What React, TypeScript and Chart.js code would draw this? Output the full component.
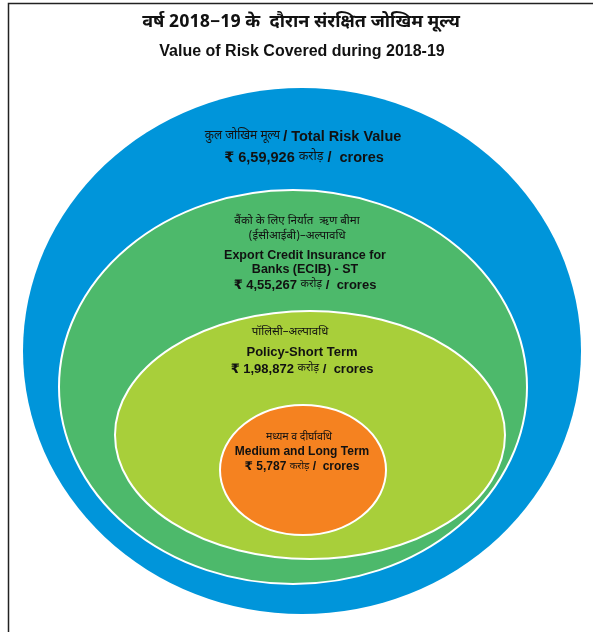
import { useEffect, useRef } from 'react';
import { Chart, registerables } from 'chart.js';
Chart.register(...registerables);

// ---- data ----
const titleHi = 'वर्ष 2018−19 के  दौरान संरक्षित जोखिम मूल्य';
const titleEn = 'Value of Risk Covered during 2018-19';
const categoriesEn = ['Total Risk Value', 'Export Credit Insurance for|Banks (ECIB) - ST', 'Policy-Short Term', 'Medium and Long Term'];
const categoriesHi = ['कुल जोखिम मूल्य', 'बैंको के लिए निर्यात  ऋण बीमा|(ईसीआईबी)–अल्पावधि', 'पॉलिसी–अल्पावधि', 'मध्यम व दीर्घावधि'];
const valuesCrores = ['6,59,926', '4,55,267', '1,98,872', '5,787'];
const colors = ['#0095DA', '#4DB96B', '#A8CF3A', '#F58220'];

// ---- layout (chart units) ----
const ringCx = [302, 293, 310, 303];
const ringCy = [351, 387, 435, 470];
const ringRx = [279, 234, 195, 83];
const ringRy = [263, 197, 124, 65];

const HI = "'Noto Sans Devanagari', 'Noto Sans', 'DejaVu Sans', sans-serif";
const EN = "'Liberation Sans', Arial, 'DejaVu Sans', sans-serif";

type Seg = { t: string; f: string };

function drawSegs(ctx: CanvasRenderingContext2D, segs: Seg[], cx: number, y: number) {
  let total = 0;
  const widths = segs.map((s) => {
    ctx.font = s.f;
    const w = ctx.measureText(s.t).width;
    total += w;
    return w;
  });
  let x = cx - total / 2;
  segs.forEach((s, i) => {
    ctx.font = s.f;
    ctx.fillText(s.t, x, y);
    x += widths[i];
  });
}

const ellipsePlugin = {
  id: 'nestedEllipses',
  beforeDatasetsDraw(chart: any) {
    const ctx: CanvasRenderingContext2D = chart.ctx;
    const xs = chart.scales.x;
    const ys = chart.scales.y;
    ctx.save();
    chart.data.datasets.forEach((ds: any, i: number) => {
      const meta = chart.getDatasetMeta(i);
      const pt = meta.data[0];
      const rx = Math.abs(xs.getPixelForValue(ringCx[i] + ringRx[i]) - xs.getPixelForValue(ringCx[i]));
      const ry = Math.abs(ys.getPixelForValue(ringCy[i] + ringRy[i]) - ys.getPixelForValue(ringCy[i]));
      ctx.beginPath();
      ctx.ellipse(pt.x, pt.y, rx, ry, 0, 0, Math.PI * 2);
      ctx.fillStyle = ds.backgroundColor;
      ctx.fill();
      if (i > 0) {
        ctx.lineWidth = 2;
        ctx.strokeStyle = '#ffffff';
        ctx.stroke();
      }
    });
    ctx.restore();
  },
  afterDatasetsDraw(chart: any) {
    const ctx: CanvasRenderingContext2D = chart.ctx;
    const xs = chart.scales.x;
    const ys = chart.scales.y;
    const X = (v: number) => xs.getPixelForValue(v);
    const Y = (v: number) => ys.getPixelForValue(v);
    ctx.save();
    // frame
    ctx.strokeStyle = '#222';
    ctx.lineWidth = 1.5;
    ctx.beginPath();
    ctx.moveTo(X(8.5), Y(632));
    ctx.lineTo(X(8.5), Y(3.5));
    ctx.lineTo(X(593), Y(3.5));
    ctx.stroke();

    ctx.fillStyle = '#111';
    ctx.textBaseline = 'middle';
    ctx.textAlign = 'left';
    drawSegs(ctx, [{ t: titleHi, f: `bold 18px ${HI}` }], X(301), Y(24));
    drawSegs(ctx, [{ t: titleEn, f: `bold 16px ${EN}` }], X(302), Y(52));

    // ring 0
    drawSegs(ctx, [
      { t: categoriesHi[0] + ' ', f: `12px ${HI}` },
      { t: '/ ' + categoriesEn[0], f: `bold 14.5px ${EN}` },
    ], X(303), Y(137));
    const valLine = (i: number, size: number, cx: number, y: number) =>
      drawSegs(ctx, [
        { t: '₹ ' + valuesCrores[i] + ' ', f: `bold ${size}px ${EN}` },
        { t: 'करोड़', f: `${size - 2}px ${HI}` },
        { t: ' /  crores', f: `bold ${size}px ${EN}` },
      ], X(cx), Y(y));
    valLine(0, 14.5, 304, 158);

    // ring 1
    const hi1 = categoriesHi[1].split('|');
    const en1 = categoriesEn[1].split('|');
    drawSegs(ctx, [{ t: hi1[0], f: `11.5px ${HI}` }], X(297), Y(222));
    drawSegs(ctx, [{ t: hi1[1], f: `11.5px ${HI}` }], X(297), Y(237));
    drawSegs(ctx, [{ t: en1[0], f: `bold 12.5px ${EN}` }], X(305), Y(256));
    drawSegs(ctx, [{ t: en1[1], f: `bold 12.5px ${EN}` }], X(305), Y(270));
    valLine(1, 13, 305, 285);

    // ring 2
    drawSegs(ctx, [{ t: categoriesHi[2], f: `11.5px ${HI}` }], X(290), Y(333));
    drawSegs(ctx, [{ t: categoriesEn[2], f: `bold 13px ${EN}` }], X(302), Y(352));
    valLine(2, 13, 302, 369);

    // ring 3
    drawSegs(ctx, [{ t: categoriesHi[3], f: `10.5px ${HI}` }], X(299), Y(438));
    drawSegs(ctx, [{ t: categoriesEn[3], f: `bold 12px ${EN}` }], X(302), Y(452));
    valLine(3, 12, 302, 467);
    ctx.restore();
  },
};

export default function App() {
  const ref = useRef<HTMLCanvasElement | null>(null);
  useEffect(() => {
    document.body.style.margin = '0';
    const canvas = ref.current;
    if (!canvas) return;
    const chart = new Chart(canvas, {
      type: 'scatter',
      data: {
        datasets: categoriesEn.map((c, i) => ({
          label: c.replace('|', ' '),
          data: [{ x: ringCx[i], y: ringCy[i] }],
          backgroundColor: colors[i],
          pointRadius: 0,
          pointHoverRadius: 0,
        })),
      },
      options: {
        animation: false,
        responsive: false,
        layout: { padding: 0 },
        plugins: { legend: { display: false }, tooltip: { enabled: false } },
        events: [],
        scales: {
          x: { type: 'linear', min: 0, max: 593, display: false },
          y: { type: 'linear', min: 0, max: 632, reverse: true, display: false },
        },
      },
      plugins: [ellipsePlugin],
    });
    return () => chart.destroy();
  }, []);
  return (
    <div style={{ width: 593, height: 632, background: '#fff' }}>
      <canvas ref={ref} width={593} height={632} style={{ display: 'block' }} />
    </div>
  );
}
